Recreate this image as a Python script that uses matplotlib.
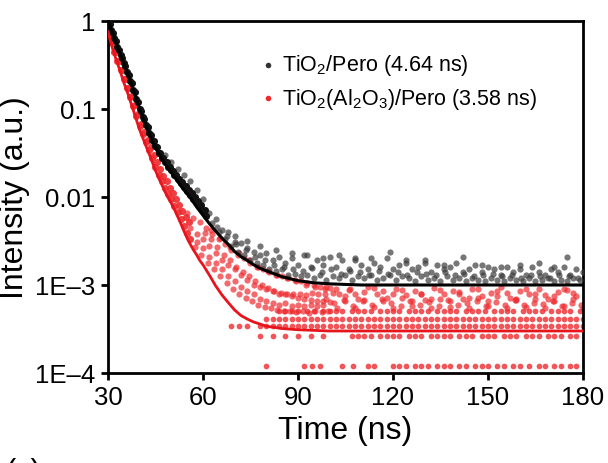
import matplotlib.pyplot as plt
import numpy as np

plt.rcParams['font.family'] = ['Liberation Sans', 'DejaVu Sans']
plt.rcParams['mathtext.fontset'] = 'custom'
plt.rcParams['mathtext.rm'] = 'Liberation Sans'
plt.rcParams['mathtext.it'] = 'Liberation Sans'
plt.rcParams['mathtext.default'] = 'regular'

labels = ['TiO$_2$/Pero (4.64 ns)', 'TiO$_2$(Al$_2$O$_3$)/Pero (3.58 ns)']
x_ticks = [30, 60, 90, 120, 150, 180]
y_ticks = [1e-4, 1e-3, 1e-2, 1e-1, 1]
y_ticklabels = ['1E\u20134', '1E\u20133', '0.01', '0.1', '1']

# ---- TiO2/Pero (black) ----
# fit curve
black_fit_t = [30, 31, 32, 33, 34, 35, 36, 37, 38, 39, 40, 42, 44, 46, 48, 50, 52, 54, 56, 58, 60,
               62, 64, 66, 68, 70, 72, 74, 76, 78, 80, 85, 90, 95, 100, 110, 180]
black_fit_y = [1.0, 0.80, 0.64, 0.51, 0.41, 0.33, 0.265, 0.21, 0.165, 0.13, 0.10, 0.064, 0.043,
               0.031, 0.024, 0.019, 0.015, 0.012, 0.0098, 0.0077, 0.0062, 0.0050, 0.0041, 0.0034,
               0.0029, 0.0024, 0.0021, 0.0019, 0.0017, 0.00155, 0.00145, 0.00124, 0.00112,
               0.00106, 0.00103, 0.0010, 0.0010]
# early data, dense band
black_t1 = [30, 31, 32, 33, 34, 35, 36, 37, 38, 39, 40, 41, 42, 43, 44, 45, 46, 47, 48, 49, 50,
            51, 52, 53, 54, 55, 56, 57, 58, 59, 60, 61]
black_y1 = [1.0, 0.80, 0.64, 0.51, 0.41, 0.33, 0.265, 0.21, 0.165, 0.13, 0.10, 0.081, 0.066,
            0.054, 0.045, 0.038, 0.032, 0.028, 0.025, 0.022, 0.020, 0.018, 0.016, 0.0145, 0.013,
            0.0118, 0.0106, 0.0095, 0.0085, 0.0077, 0.0069, 0.0061]
black_t2 = [30.5, 31.5, 32.5, 33.5, 34.5, 35.5, 36.5, 37.5, 38.5, 39.5, 40.5, 41.5, 42.5, 43.5,
            44.5, 45.5, 46.5, 47.5, 48.5, 49.5, 50.5, 51.5, 52.5, 53.5, 54.5, 55.5, 56.5, 57.5,
            58.5, 59.5, 60.5]
black_y2 = [0.93, 0.74, 0.59, 0.47, 0.38, 0.305, 0.245, 0.195, 0.155, 0.121, 0.095, 0.076, 0.062,
            0.051, 0.043, 0.037, 0.032, 0.028, 0.025, 0.022, 0.0198, 0.0178, 0.016, 0.0147,
            0.0133, 0.012, 0.011, 0.0099, 0.009, 0.0081, 0.0072]
# tail data (x1e-3)
black_tA = [62, 64, 66, 68, 70, 72, 74, 76, 78, 80, 82, 84, 86, 88, 90, 92, 94, 96, 98, 100,
            102, 104, 106, 108, 110, 112, 114, 116, 118, 120, 122, 124, 126, 128, 130, 132, 134,
            136, 138, 140, 142, 144, 146, 148, 150, 152, 154, 156, 158, 160, 162, 164, 166, 168,
            170, 172, 174, 176, 178, 180]
black_yA = [6.5, 5.6, 4.2, 4.0, 3.1, 3.0, 2.6, 2.4, 2.2, 2.3, 1.9, 2.1, 1.8, 2.0, 1.7, 2.2, 1.6,
            1.9, 1.7, 2.1, 1.6, 1.9, 1.5, 2.0, 1.7, 1.5, 1.8, 1.6, 2.0, 1.5, 1.7, 1.9, 1.5, 1.6,
            1.8, 1.4, 1.7, 1.5, 1.6, 1.8, 1.4, 1.5, 1.7, 1.4, 1.6, 1.5, 1.3, 1.6, 1.4, 1.5, 1.3,
            1.6, 1.4, 1.3, 1.5, 1.4, 1.6, 1.3, 1.5, 1.4]
black_tB = [63, 65, 67, 69, 71, 73, 75, 77, 79, 81, 83, 85, 87, 89, 91, 93, 95, 97, 99, 101, 103,
            105, 107, 109, 111, 113, 115, 117, 119, 121, 123, 125, 127, 129, 131, 133, 135, 137,
            139, 141, 143, 145, 147, 149, 151, 153, 155, 157, 159, 161, 163, 165, 167, 169, 171,
            173, 175, 177, 179]
black_yB = [5.0, 4.0, 3.3, 2.8, 2.4, 2.2, 1.9, 1.8, 1.7, 1.5, 1.45, 1.5, 1.3, 1.35, 1.25, 1.3,
            1.2, 1.3, 1.15, 1.25, 1.2, 1.3, 1.15, 1.25, 1.2, 1.3, 1.15, 1.2, 1.3, 1.15, 1.25, 1.2,
            1.1, 1.25, 1.15, 1.2, 1.1, 1.25, 1.15, 1.2, 1.1, 1.2, 1.15, 1.1, 1.2, 1.15, 1.1, 1.2,
            1.15, 1.1, 1.2, 1.1, 1.15, 1.2, 1.1, 1.15, 1.1, 1.2, 1.15]
black_tC = [48, 50, 52, 54, 56, 58, 60, 70, 74, 78, 83, 88, 93, 98, 103, 108, 113, 119, 124, 130,
            136, 142, 148, 154, 160, 166, 171, 175]
black_yC = [30, 25, 21, 18, 15, 12, 9.5, 3.6, 3.2, 2.8, 2.5, 2.3, 2.2, 2.0, 2.2, 1.9, 2.0, 2.4,
            1.8, 1.9, 1.7, 2.1, 1.7, 1.6, 1.7, 1.8, 1.6, 2.1]
black_tD = [64.5, 67.5, 70.5, 73.5, 76.5, 79.5, 82.5, 85.5, 88.5, 91.5, 94.5, 97.5, 100.5, 103.5,
            106.5, 109.5, 112.5, 115.5, 118.5, 121.5, 124.5, 127.5, 130.5, 133.5, 136.5, 139.5,
            142.5, 145.5, 148.5, 151.5, 154.5, 157.5, 160.5, 163.5, 166.5, 169.5, 172.5, 175.5,
            178.5]
black_yD = [4.6, 3.6, 2.9, 2.5, 2.1, 1.9, 1.7, 1.6, 1.5, 1.45, 1.55, 1.4, 1.5, 1.35, 1.45, 1.4,
            1.3, 1.45, 1.35, 1.4, 1.3, 1.4, 1.35, 1.3, 1.4, 1.3, 1.35, 1.25, 1.3, 1.35, 1.25, 1.3,
            1.2, 1.3, 1.25, 1.2, 1.3, 1.25, 1.2]

# ---- TiO2(Al2O3)/Pero (red) ----
red_fit_t = [30, 31, 32, 33, 34, 35, 36, 37, 38, 39, 40, 41, 42, 43, 44, 45, 46, 47, 48, 49, 50,
             51, 52, 53, 54, 55, 56, 57, 58, 59, 60, 62, 64, 66, 68, 70, 72, 74, 76, 78, 80, 85,
             90, 100, 180]
red_fit_y = [0.75, 0.55, 0.42, 0.33, 0.26, 0.20, 0.16, 0.125, 0.097, 0.075, 0.058, 0.047, 0.038,
             0.031, 0.025, 0.020, 0.0165, 0.0138, 0.0115, 0.0098, 0.0085, 0.0072, 0.006, 0.005,
             0.0041, 0.0034, 0.0029, 0.0025, 0.0022, 0.0019, 0.0017, 0.0013, 0.00098, 0.00077,
             0.00063, 0.00052, 0.00045, 0.00041, 0.00038, 0.00036, 0.00034, 0.00032, 0.00031,
             0.0003, 0.0003]
red_t1 = [30, 31, 32, 33, 34, 35, 36, 37, 38, 39, 40, 41, 42, 43, 44, 45, 46, 47, 48, 49, 50, 51,
          52, 53, 54, 55, 56]
red_y1 = [0.75, 0.58, 0.45, 0.35, 0.28, 0.22, 0.175, 0.137, 0.107, 0.083, 0.064, 0.052, 0.042,
          0.034, 0.0275, 0.022, 0.018, 0.0152, 0.0127, 0.0108, 0.0094, 0.008, 0.0067, 0.0056,
          0.0047, 0.0039, 0.0033]
red_t2 = [30.5, 31.5, 32.5, 33.5, 34.5, 35.5, 36.5, 37.5, 38.5, 39.5, 40.5, 41.5, 42.5, 43.5,
          44.5, 45.5, 46.5, 47.5, 48.5, 49.5, 50.5, 51.5, 52.5, 53.5, 54.5, 55.5]
red_y2 = [0.72, 0.56, 0.44, 0.35, 0.28, 0.22, 0.175, 0.14, 0.11, 0.087, 0.068, 0.055, 0.045,
          0.037, 0.03, 0.025, 0.021, 0.0175, 0.015, 0.0128, 0.011, 0.0095, 0.0082, 0.007, 0.006,
          0.0052]
# middle region (x1e-3)
red_tR1 = [55, 57, 59, 61, 63, 65, 67, 69, 71, 73, 75, 77, 79, 81, 83, 85, 87, 89, 91, 93, 95,
           97, 99]
red_yR1 = [6.5, 5.8, 5.2, 4.5, 3.8, 3.3, 2.9, 2.5, 2.2, 2.0, 1.8, 1.6, 1.5, 1.4, 1.3, 1.25, 1.2,
           1.15, 1.1, 1.05, 1.0, 0.95, 0.95]
red_tR2 = [56, 58, 60, 62, 64, 66, 68, 70, 72, 74, 76, 78, 80, 82, 84, 86, 88, 90, 92, 94, 96,
           98, 100]
red_yR2 = [4.5, 3.8, 3.3, 2.8, 2.3, 1.9, 1.7, 1.5, 1.3, 1.15, 1.0, 0.95, 0.9, 0.85, 0.8, 0.78,
           0.75, 0.72, 0.7, 0.68, 0.66, 0.65, 0.64]
red_tR3 = [57.5, 59.5, 61.5, 63.5, 65.5, 67.5, 69.5, 71.5, 73.5, 75.5, 77.5, 79.5, 81.5, 83.5,
           85.5, 87.5, 89.5, 91.5, 93.5, 95.5, 97.5, 99.5]
red_yR3 = [2.7, 2.2, 1.8, 1.5, 1.25, 1.05, 0.9, 0.8, 0.72, 0.66, 0.6, 0.56, 0.55, 0.52, 0.5,
           0.5, 0.49, 0.5, 0.48, 0.5, 0.49, 0.5]
red_tR4 = [60.5, 62.5, 64.5, 66.5, 68.5, 70.5, 72.5, 74.5, 76.5, 78.5, 80.5, 82.5, 84.5, 86.5,
           88.5, 90.5, 92.5, 94.5, 96.5, 98.5]
red_yR4 = [3.9, 3.3, 2.7, 2.2, 1.9, 1.6, 1.4, 1.25, 1.1, 1.0, 0.92, 0.86, 0.82, 0.8, 0.78, 0.8,
           0.76, 0.82, 0.78, 0.8]
red_tR5 = [58, 60, 62, 64, 66, 68, 70, 72, 74, 76, 78, 80, 82, 84, 86, 88, 90, 92, 94, 96, 98]
red_yR5 = [3.1, 2.6, 2.1, 1.8, 1.5, 1.25, 1.1, 0.95, 0.85, 0.78, 0.7, 0.66, 0.62, 0.6, 0.62,
           0.58, 0.6, 0.57, 0.6, 0.58, 0.6]
red_tR6 = [62.5, 65.5, 68.5, 71.5, 74.5, 77.5, 80.5, 83.5, 86.5, 89.5, 92.5, 95.5, 98.5]
red_yR6 = [4.2, 3.4, 2.7, 2.3, 1.9, 1.6, 1.45, 1.3, 1.2, 1.1, 1.0, 0.95, 0.9]
# upper tail cloud (x1e-3)
red_tU1 = [100, 103, 106, 109, 112, 115, 118, 121, 124, 127, 130, 133, 136, 139, 142, 145, 148,
           151, 154, 157, 160, 163, 166, 169, 172, 175, 178]
red_yU1 = [0.92, 0.78, 0.88, 0.7, 0.95, 0.8, 0.72, 0.9, 0.76, 0.85, 0.68, 0.92, 0.78, 0.86, 0.7,
           0.9, 0.75, 0.82, 0.95, 0.72, 0.85, 0.78, 0.9, 0.7, 0.83, 0.88, 0.75]
red_tU2 = [101.5, 104.5, 107.5, 110.5, 113.5, 116.5, 119.5, 122.5, 125.5, 128.5, 131.5, 134.5,
           137.5, 140.5, 143.5, 146.5, 149.5, 152.5, 155.5, 158.5, 161.5, 164.5, 167.5, 170.5,
           173.5, 176.5, 179.5]
red_yU2 = [0.62, 0.68, 0.58, 0.65, 0.6, 0.7, 0.63, 0.58, 0.66, 0.6, 0.64, 0.57, 0.68, 0.6, 0.62,
           0.66, 0.58, 0.64, 0.6, 0.67, 0.59, 0.63, 0.61, 0.65, 0.58, 0.62, 0.6]
red_tU3 = [101, 102.5, 105, 106.5, 108, 111, 114, 117, 120, 123, 126, 129, 132, 135, 138, 141,
           144, 147, 150, 153, 156, 159, 162, 165, 168, 171, 174, 177, 180]
red_yU3 = [0.82, 0.55, 0.74, 0.9, 0.55, 0.84, 0.56, 0.86, 0.55, 0.72, 0.57, 0.8, 0.55, 0.7,
           0.56, 0.84, 0.55, 0.72, 0.57, 0.86, 0.55, 0.7, 0.56, 0.8, 0.55, 0.74, 0.57, 0.82, 0.55]
red_tU4 = [99, 102, 105, 108, 111, 114, 117, 120, 123, 126, 129, 132, 135, 138, 141, 144, 147,
           150, 153, 156, 159, 162, 165, 168, 171, 174, 177]
red_yU4 = [0.7, 0.9, 0.66, 0.78, 0.68, 0.92, 0.66, 0.78, 0.88, 0.66, 0.8, 0.7, 0.88, 0.66, 0.78,
           0.72, 0.9, 0.66, 0.74, 0.82, 0.68, 0.9, 0.7, 0.76, 0.66, 0.9, 0.7]
# quantized count rows at low intensity
q_levels = [5.0e-4, 4.1e-4, 3.4e-4, 2.6e-4, 1.2e-4]
q_times = [
    [84, 86, 88, 90, 93, 95, 98, 100, 102, 104, 107, 109, 111, 113, 116, 118, 120, 122, 125, 127,
     129, 131, 134, 136, 138, 140, 143, 145, 147, 149, 152, 154, 156, 158, 161, 163, 165, 167,
     170, 172, 174, 176, 179],
    [80, 82, 84, 86, 88, 90, 92, 94, 96, 98, 100, 102, 104, 106, 108, 110, 112, 114, 116, 118,
     120, 122, 124, 126, 128, 130, 132, 134, 136, 138, 140, 142, 144, 146, 148, 150, 152, 154,
     156, 158, 160, 162, 164, 166, 168, 170, 172, 174, 176, 178, 180],
    [69, 71.5, 74, 78, 80, 82, 84, 86, 88, 90, 92, 94, 96, 98, 100, 102, 104, 106, 108, 110, 112,
     114, 116, 118, 120, 122, 124, 126, 128, 130, 132, 134, 136, 138, 140, 142, 144, 146, 148,
     150, 152, 154, 156, 158, 160, 162, 164, 166, 168, 170, 172, 174, 176, 178, 180],
    [78, 82, 86, 90, 94, 98, 107, 109, 111, 113, 116, 118, 120, 122, 125, 127, 129, 132, 134, 136,
     138, 141, 143, 145, 148, 150, 152, 155, 157, 159, 162, 164, 166, 169, 171, 173, 176, 178],
    [80, 92, 94.5, 97, 104, 107.5, 112, 114, 120, 122, 124, 127, 129, 131, 134, 136, 138, 141,
     143, 146, 148, 150, 153, 155, 158, 160, 163, 166, 168, 171, 173, 176, 178],
]

k = 1e-3
black_pts_t = black_t1 + black_t2
black_pts_y = black_y1 + black_y2
black_tail_t = black_tA + black_tB + black_tC + black_tD
black_tail_y = [v * k for v in black_yA + black_yB + black_yC + black_yD]
red_pts_t = red_t1 + red_t2
red_pts_y = red_y1 + red_y2
red_mid_t = (red_tR1 + red_tR2 + red_tR3 + red_tR4 + red_tR5 + red_tR6
             + red_tU1 + red_tU2 + red_tU3 + red_tU4)
red_mid_y = [v * k for v in red_yR1 + red_yR2 + red_yR3 + red_yR4 + red_yR5 + red_yR6
             + red_yU1 + red_yU2 + red_yU3 + red_yU4]

fig = plt.figure(figsize=(6.08, 4.64), dpi=100)
ax = fig.add_axes([0.1776, 0.194, 0.781, 0.7586])

red_c = '#ee2a2e'
ms = 17
for lev, ts in zip(q_levels, q_times):
    ax.scatter(ts, [lev] * len(ts), s=ms, color=red_c, alpha=0.8, lw=0, zorder=2)
ax.scatter(red_mid_t, red_mid_y, s=ms + 3, color=red_c, alpha=0.7, lw=0, zorder=2)
ax.scatter(red_pts_t, red_pts_y, s=ms + 9, color=red_c, alpha=0.9, lw=0, zorder=2)

ax.scatter(black_tail_t, black_tail_y, s=ms + 3, color='#3c3c3c', alpha=0.7, lw=0, zorder=3)
ax.scatter(black_pts_t, black_pts_y, s=ms + 9, color='#111111', lw=0, zorder=3)

ax.plot(red_fit_t, red_fit_y, color='#e8141c', lw=2, zorder=4)
ax.plot(black_fit_t, black_fit_y, color='black', lw=2.2, zorder=5)

# legend handles
h1 = ax.scatter([], [], s=16, color='#333333', lw=0)
h2 = ax.scatter([], [], s=16, color=red_c, lw=0)
ax.legend([h1, h2], labels, loc='upper left', bbox_to_anchor=(0.296, 0.935), frameon=False,
          fontsize=15.5, handletextpad=0.15, handlelength=1.0, labelspacing=0.4,
          borderaxespad=0)

ax.set_yscale('log')
ax.set_xlim(30, 180)
ax.set_ylim(1e-4, 1)
ax.set_xticks(x_ticks)
ax.set_yticks(y_ticks)
ax.set_yticklabels(y_ticklabels)
ax.yaxis.set_minor_locator(plt.NullLocator())
ax.tick_params(axis='both', which='major', direction='out', length=5, width=2,
               labelsize=18.5, pad=4)
for s in ax.spines.values():
    s.set_linewidth(2)

ax.set_xlabel('Time (ns)', fontsize=23, labelpad=4)
ax.set_ylabel('Intensity (a.u.)', fontsize=23, labelpad=4)
fig.text(0.008, 0.012, '(c)', fontsize=22, va='top')

fig.savefig('out.png', dpi=100)
